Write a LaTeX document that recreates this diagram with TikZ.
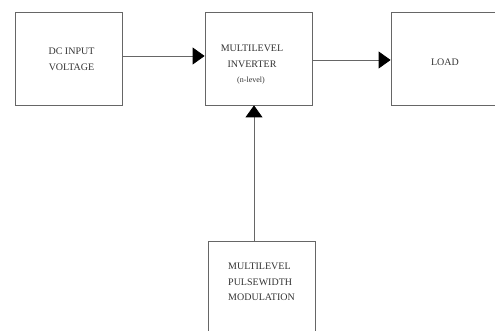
\documentclass[tikz,border=0pt]{standalone}
\usepackage{fontspec}
\setmainfont{Liberation Serif}
\usetikzlibrary{arrows.meta}

\begin{document}
\begin{tikzpicture}[x=1pt, y=-1pt,
  block/.style={draw=black!60, line width=0.8pt, minimum width=107pt, minimum height=93pt, inner sep=0pt},
  txt/.style={text=black!80, font=\fontsize{10}{15.5}\selectfont, inner sep=0pt},
  link/.style={draw=black!60, line width=0.8pt, -{Triangle[length=12pt, width=17pt, black]}}]
  \useasboundingbox (0,0) rectangle (495,331);
  \clip (0,0) rectangle (495,331);

  % blocks
  \node[block] (A) at (68.5,58.5) {};
  \node[block] (B) at (258.5,58.5) {};
  \node[block] (C) at (444.5,58.5) {};
  \node[block, minimum height=120pt] (D) at (261.5,301) {};

  % texts
  \node[txt, align=center] (a) at (71.5,59.5) {DC INPUT\\VOLTAGE};
  \node[txt] (b1) at (252,48) {MULTILEVEL};
  \node[txt] (b2) at (252,64) {INVERTER};
  \node[txt, font=\fontsize{8}{10}\selectfont] (b3) at (251,81) {(n-level)};
  \node[txt] (c) at (445,62) {LOAD};
  \node[txt, align=left, anchor=north west] (d) at (228,263) {MULTILEVEL\\PULSEWIDTH\\MODULATION};

  % connectors
  \draw[link] (A.east |- 0,56) -- (B.west |- 0,56);
  \draw[link] (B.east |- 0,60) -- (C.west |- 0,60);
  \draw[link] (D.north -| 254,0) -- (B.south -| 254,0);
\end{tikzpicture}
\end{document}
